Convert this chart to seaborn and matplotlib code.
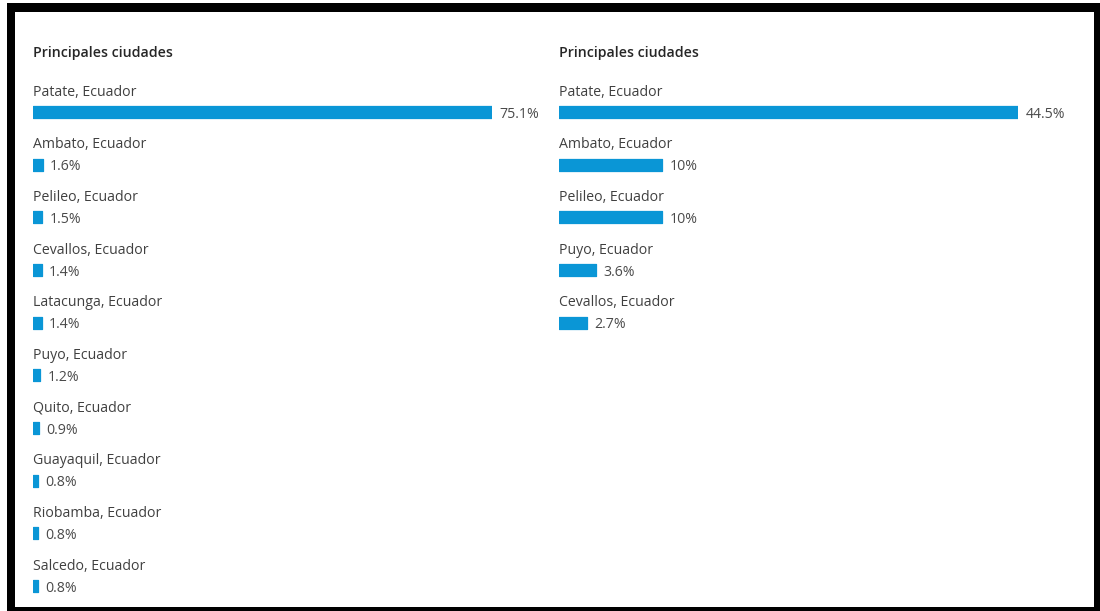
import matplotlib
matplotlib.use("Agg")
import matplotlib.pyplot as plt
from matplotlib.patches import Rectangle
import seaborn as sns
import pandas as pd

# Top cities, left panel
cities_left = ["Patate, Ecuador", "Ambato, Ecuador", "Pelileo, Ecuador",
               "Cevallos, Ecuador", "Latacunga, Ecuador", "Puyo, Ecuador",
               "Quito, Ecuador", "Guayaquil, Ecuador", "Riobamba, Ecuador",
               "Salcedo, Ecuador"]
share_left = [75.1, 1.6, 1.5, 1.4, 1.4, 1.2, 0.9, 0.8, 0.8, 0.8]
labels_left = ["75.1%", "1.6%", "1.5%", "1.4%", "1.4%", "1.2%", "0.9%",
               "0.8%", "0.8%", "0.8%"]

# Top cities, right panel
cities_right = ["Patate, Ecuador", "Ambato, Ecuador", "Pelileo, Ecuador",
                "Puyo, Ecuador", "Cevallos, Ecuador"]
share_right = [44.5, 10, 10, 3.6, 2.7]
labels_right = ["44.5%", "10%", "10%", "3.6%", "2.7%"]

panel_title = "Principales ciudades"

sns.set_theme(style="white")
plt.rcParams["font.family"] = ["Open Sans", "DejaVu Sans"]

W, H = 1100, 611
fig = plt.figure(figsize=(W / 100, H / 100), dpi=100)
fig.patch.set_facecolor("white")

# black frame around the card
fig.patches.append(Rectangle((7 / W, 0), 1 - 7 / W, 1 - 3 / H,
                             transform=fig.transFigure, facecolor="black",
                             edgecolor="none", zorder=-10))
fig.patches.append(Rectangle((15 / W, 4 / H), (1094 - 15) / W, (607 - 12) / H,
                             transform=fig.transFigure, facecolor="white",
                             edgecolor="none", zorder=-9))

BAR_COLOR = "#0a96d6"
ROW = 52.67          # px between rows
FIRST_BAR = 112      # px from top, centre of first bar
AX_TOP, AX_BOT = 60, 600
BAR_W = 459          # px of the longest bar
FS = 10.2


def px_to_fig_y(py):
    return 1 - py / H


def draw_panel(x0, cities, values, labels):
    ax = fig.add_axes([x0 / W, px_to_fig_y(AX_BOT), BAR_W / W,
                       (AX_BOT - AX_TOP) / H])
    ax.set_zorder(1)
    df = pd.DataFrame({"city": cities, "share": values})
    sns.barplot(data=df, x="share", y="city", orient="h", color=BAR_COLOR,
                width=12 / ROW, saturation=1, ax=ax)
    for p in ax.patches:
        p.set_edgecolor(BAR_COLOR)
        p.set_linewidth(0.9)
        p.set_joinstyle("round")
    ax.set_xlim(0, max(values))
    ax.set_ylim((AX_BOT - FIRST_BAR) / ROW, (AX_TOP - FIRST_BAR) / ROW)
    ax.set_facecolor("none")
    ax.axis("off")

    for i, (city, v, lab) in enumerate(zip(cities, values, labels)):
        ax.text(0, i - 20 / ROW, city, ha="left", va="center",
                fontsize=FS, color="#404040", clip_on=False)
        ax.annotate(lab, xy=(v, i), xytext=(5.3, -1.5),
                    textcoords="offset points", ha="left", va="center",
                    fontsize=FS, color="#4a4a4a", annotation_clip=False)
    ax.text(0, (53 - FIRST_BAR) / ROW, panel_title, ha="left", va="center",
            fontsize=FS, fontweight="semibold", color="#262626",
            clip_on=False)
    return ax


draw_panel(33, cities_left, share_left, labels_left)
draw_panel(559, cities_right, share_right, labels_right)

fig.savefig("out.png", dpi=100, facecolor="white")
